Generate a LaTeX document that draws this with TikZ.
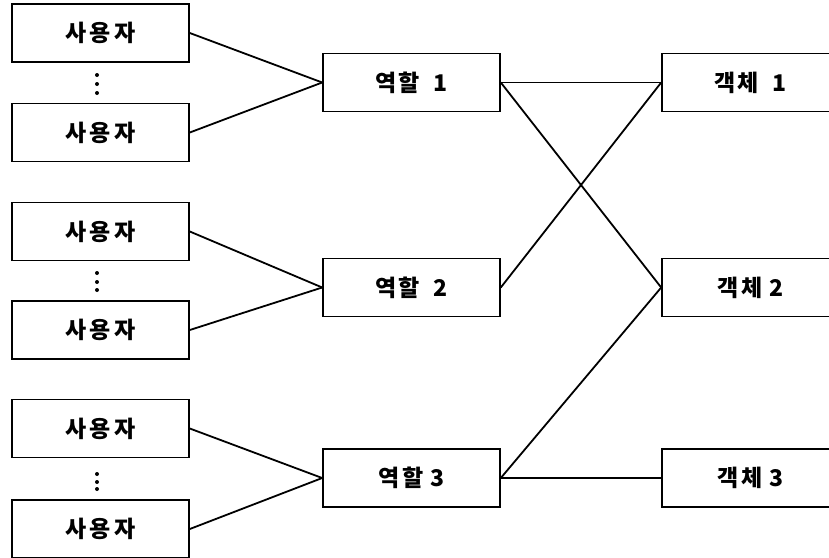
\documentclass[tikz,border=0pt]{standalone}
\usepackage{fontspec}
\newfontfamily\kr{Noto Sans CJK KR}[BoldFont={Noto Sans CJK KR Black}]
\begin{document}
\begin{tikzpicture}[x=1pt,y=-1pt,
  box/.style={draw=black,line width=1.6pt,minimum width=177pt,minimum height=58pt,inner sep=0pt,font=\kr\bfseries\fontsize{23pt}{26pt}\selectfont},
  link/.style={line width=1.8pt},
  vdot/.style={fill=black,circle,inner sep=0pt,minimum size=4pt}]
\useasboundingbox (0,0) rectangle (829,557);
\clip (0,0) rectangle (829,557);
% users
\node[box] (u1) at (100.5,33) {사\hspace{3pt}용\hspace{3pt}자};
\node[box] (u2) at (100.5,132.5) {사\hspace{3pt}용\hspace{3pt}자};
\node[box] (u3) at (100.5,231.5) {사\hspace{3pt}용\hspace{3pt}자};
\node[box] (u4) at (100.5,330) {사\hspace{3pt}용\hspace{3pt}자};
\node[box] (u5) at (100.5,428.5) {사\hspace{3pt}용\hspace{3pt}자};
\node[box] (u6) at (100.5,529) {사\hspace{3pt}용\hspace{3pt}자};
% dots
\foreach \y in {75,84,93, 273,282,290, 474,482,489}
  \node[vdot] at (97,\y) {};
% roles
\node[box] (r1) at (411.5,82.5) {역\hspace{2pt}할\hspace{14pt}1};
\node[box] (r2) at (411.5,287.5) {역\hspace{2pt}할\hspace{14pt}2};
\node[box] (r3) at (411.5,478) {역\hspace{3pt}할\hspace{7pt}3};
% objects
\node[box] (o1) at (750.5,82.5) {객\hspace{2pt}체\hspace{14pt}1};
\node[box] (o2) at (750.5,287.5) {객\hspace{3pt}체\hspace{7pt}2};
\node[box] (o3) at (750.5,478) {객\hspace{3pt}체\hspace{7pt}3};
% links users -> roles
\draw[link] (u1.east) -- (r1.west);
\draw[link] (u2.east) -- (r1.west);
\draw[link] (u3.east) -- (r2.west);
\draw[link] (u4.east) -- (r2.west);
\draw[link] (u5.east) -- (r3.west);
\draw[link] (u6.east) -- (r3.west);
% links roles -> objects
\draw[link] (r1.east) -- (o1.west);
\draw[link] (r1.east) -- (o2.west);
\draw[link] (r2.east) -- (o1.west);
\draw[link] (r3.east) -- (o2.west);
\draw[link] (r3.east) -- (o3.west);
\end{tikzpicture}
\end{document}
